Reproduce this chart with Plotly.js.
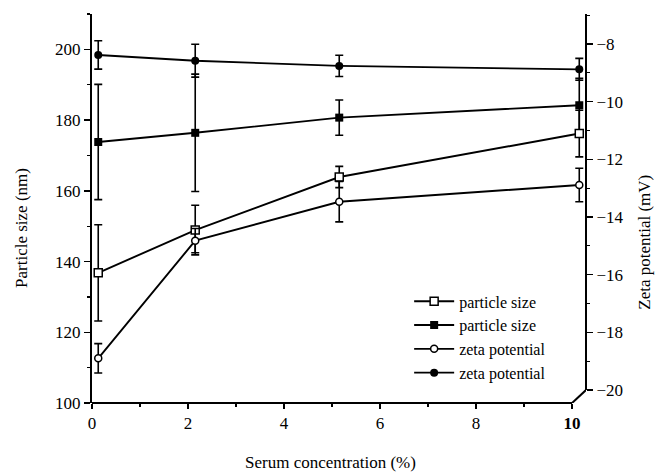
<!DOCTYPE html>
<html>
<head>
<meta charset="utf-8">
<script src="https://cdn.plot.ly/plotly-3.0.1.min.js"></script>
<style>html,body{margin:0;padding:0;background:#fff;}#chart{width:657px;height:475px;}</style>
</head>
<body>
<div id="chart"></div>
<script>
// Serum concentration (%) as placed in the figure
const serum = [0.13, 2.15, 5.15, 10.15];

// Particle size (nm) – open squares
const sizeOpen = [136.8, 148.9, 163.9, 176.2];
const sizeOpenErr = [13.6, 7.0, 3.0, 6.6];
// Particle size (nm) – filled squares
const sizeFilled = [173.8, 176.4, 180.7, 184.2];
const sizeFilledErr = [16.3, 16.6, 5.0, 7.6];
// Zeta potential (mV) – open circles
const zetaOpen = [-18.90, -14.82, -13.47, -12.89];
const zetaOpenErr = [0.51, 0.42, 0.70, 0.58];
// Zeta potential (mV) – filled circles
const zetaFilled = [-8.38, -8.58, -8.76, -8.88];
const zetaFilledErr = [0.49, 0.57, 0.37, 0.38];

const xTickVals = [0, 2, 4, 6, 8, 10];
const xTickText = ['0', '2', '4', '6', '8', '<b>10</b>'];
const y1TickVals = [100, 120, 140, 160, 180, 200];
const y2TickVals = [-20, -18, -16, -14, -12, -10, -8];
const legendNames = ['particle size', 'particle size', 'zeta potential', 'zeta potential'];
const xTitle = 'Serum concentration (%)';
const y1Title = 'Particle size (nm)';
const y2Title = 'Zeta potential (mV)';

const FONT = 'Liberation Serif, Times New Roman, serif';
const xRange = [0, 10.29];
const y1Range = [100, 210];
const y2Range = [-20.45, -6.96];

function errObj(arr) {
  return {type: 'data', array: arr, visible: true, color: '#000', thickness: 1.6, width: 4};
}
const lineStyle = {color: '#000', width: 1.9};

const traces = [
  {x: serum, y: sizeFilled, name: legendNames[1], yaxis: 'y', mode: 'lines+markers',
   line: lineStyle, marker: {symbol: 'square', size: 8, color: '#000'}, error_y: errObj(sizeFilledErr), legendrank: 2},
  {x: serum, y: zetaFilled, name: legendNames[3], yaxis: 'y2', mode: 'lines+markers',
   line: lineStyle, marker: {symbol: 'circle', size: 8, color: '#000'}, error_y: errObj(zetaFilledErr), legendrank: 4},
  {x: serum, y: sizeOpen, name: legendNames[0], yaxis: 'y', mode: 'lines+markers',
   line: lineStyle, marker: {symbol: 'square', size: 8, color: '#fff', line: {color: '#000', width: 1.5}}, error_y: errObj(sizeOpenErr), legendrank: 1},
  {x: serum, y: zetaOpen, name: legendNames[2], yaxis: 'y2', mode: 'lines+markers',
   line: lineStyle, marker: {symbol: 'circle', size: 7, color: '#fff', line: {color: '#000', width: 1.5}}, error_y: errObj(zetaOpenErr), legendrank: 3}
];

const layout = {
  width: 657, height: 475,
  margin: {l: 92, r: 71, t: 14, b: 72},
  paper_bgcolor: '#fff', plot_bgcolor: '#fff',
  font: {family: FONT, size: 17, color: '#000'},
  showlegend: true,
  legend: {x: 0.642, y: 0.305, xanchor: 'left', yanchor: 'top', bgcolor: 'rgba(0,0,0,0)',
           font: {family: FONT, size: 16, color: '#000'}, tracegroupgap: 0, itemwidth: 40},
  xaxis: {
    range: xRange, showgrid: false, zeroline: false, showline: false,
    tickvals: xTickVals, ticktext: xTickText, ticks: 'outside', ticklen: 5, tickwidth: 1.5, tickcolor: '#000',
    minor: {dtick: 1, tick0: 0, ticks: 'outside', ticklen: 3, tickwidth: 1.2, tickcolor: '#000', showgrid: false},
    tickfont: {family: FONT, size: 17}
  },
  yaxis: {
    range: y1Range, showgrid: false, zeroline: false, showline: true, linecolor: '#000', linewidth: 2,
    tickvals: y1TickVals, ticks: 'outside', ticklen: 6, tickwidth: 1.5, tickcolor: '#000',
    minor: {dtick: 10, tick0: 100, ticks: 'outside', ticklen: 3, tickwidth: 1.2, tickcolor: '#000', showgrid: false},
    tickfont: {family: FONT, size: 17}
  },
  yaxis2: {
    range: y2Range, overlaying: 'y', side: 'right', showgrid: false, zeroline: false, showline: false,
    tickvals: y2TickVals, ticks: 'outside', ticklen: 6, tickwidth: 1.5, tickcolor: '#000',
    minor: {dtick: 1, tick0: -20, ticks: 'outside', ticklen: 3, tickwidth: 1.2, tickcolor: '#000', showgrid: false},
    tickfont: {family: FONT, size: 17}
  },
  annotations: [
    {text: xTitle, xref: 'paper', yref: 'paper', x: 0.482, y: -0.154, xanchor: 'center', yanchor: 'middle',
     showarrow: false, font: {family: FONT, size: 17}},
    {text: y1Title, xref: 'paper', yref: 'paper', x: -0.1417, y: 0.45, xanchor: 'center', yanchor: 'middle',
     textangle: -90, showarrow: false, font: {family: FONT, size: 17}},
    {text: y2Title, xref: 'paper', yref: 'paper', x: 1.119, y: 0.414, xanchor: 'center', yanchor: 'middle',
     textangle: -90, showarrow: false, font: {family: FONT, size: 17}}
  ],
  shapes: [
    // bottom axis line up to x = 10
    {type: 'line', xref: 'x', yref: 'paper', x0: 0, x1: 10, y0: 0, y1: 0, line: {color: '#000', width: 2}},
    // diagonal joint to the right axis
    {type: 'line', xref: 'x', yref: 'y2', x0: 10, y0: y2Range[0], x1: xRange[1], y1: -20, line: {color: '#000', width: 2}},
    // right axis line
    {type: 'line', xref: 'paper', yref: 'y2', x0: 1, x1: 1, y0: -20, y1: y2Range[1], line: {color: '#000', width: 2}}
  ]
};

Plotly.newPlot('chart', traces, layout, {staticPlot: true, displayModeBar: false});
</script>
</body>
</html>
